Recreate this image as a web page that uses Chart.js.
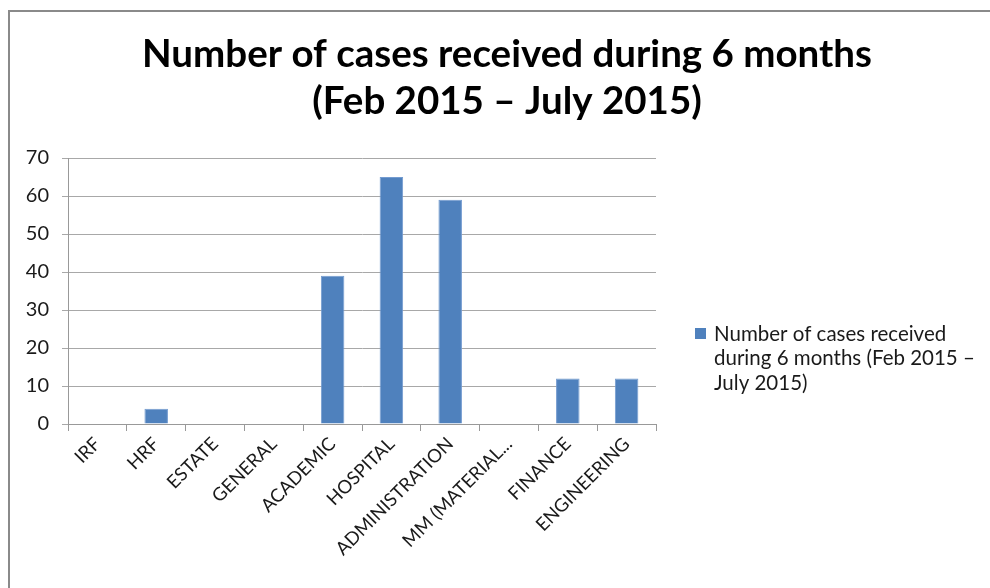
<!DOCTYPE html>
<html>
<head>
<meta charset="utf-8">
<script src="https://cdn.jsdelivr.net/npm/chart.js@4"></script>
<style>
html,body{margin:0;padding:0;background:#fff;}
#wrap{width:990px;height:588px;position:relative;}
</style>
</head>
<body>
<div id="wrap"><canvas id="c" width="990" height="588"></canvas></div>
<script>
const categories = ["IRF","HRF","ESTATE","GENERAL","ACADEMIC","HOSPITAL","ADMINISTRATION","MM (MATERIAL...","FINANCE","ENGINEERING"];
const seriesName = "Number of cases received during 6 months (Feb 2015 \u2013 July 2015)";
const caseCounts = [0,4,0,0,39,65,59,0,12,12];
const titleLines = ["Number of cases received during 6 months","(Feb 2015 \u2013 July 2015)"];
const legendLines = ["Number of cases received","during 6 months (Feb 2015 \u2013","July 2015)"];
const yTicks = [0,10,20,30,40,50,60,70];

const FONT = "Lato, 'Open Sans', sans-serif";
const BAR = "#4F81BD";

const framePlugin = {
  id: 'frame',
  beforeDraw(chart) {
    const ctx = chart.ctx;
    ctx.save();
    ctx.fillStyle = '#fff';
    ctx.fillRect(0,0,chart.width,chart.height);
    ctx.strokeStyle = '#8a8a8a';
    ctx.lineWidth = 2;
    ctx.beginPath();
    ctx.moveTo(9, chart.height);
    ctx.lineTo(9, 11);
    ctx.lineTo(chart.width, 11);
    ctx.stroke();
    ctx.restore();
  }
};

const titlePlugin = {
  id: 'customTitle',
  afterDraw(chart) {
    const ctx = chart.ctx;
    ctx.save();
    ctx.fillStyle = '#000';
    ctx.font = "bold 38.5px " + FONT;
    ctx.textAlign = 'center';
    ctx.textBaseline = 'alphabetic';
    ctx.fillText(titleLines[0], 507, 67);
    ctx.fillText(titleLines[1], 507, 114);
    ctx.restore();
  }
};

const legendPlugin = {
  id: 'customLegend',
  afterDraw(chart) {
    const ctx = chart.ctx;
    ctx.save();
    ctx.fillStyle = BAR;
    ctx.fillRect(695, 328, 11, 11);
    ctx.fillStyle = '#1a1a1a';
    ctx.font = "20.5px " + FONT;
    ctx.textBaseline = 'middle';
    ctx.textAlign = 'left';
    legendLines.forEach((l, i) => ctx.fillText(l, 714, 334 + i * 24.5));
    ctx.restore();
  }
};

new Chart(document.getElementById('c'), {
  type: 'bar',
  data: {
    labels: categories,
    datasets: [{
      label: seriesName,
      data: caseCounts,
      backgroundColor: BAR,
      borderColor: '#739bd0',
      borderWidth: 1,
      categoryPercentage: 1.0,
      barPercentage: 0.4
    }]
  },
  options: {
    responsive: false,
    animation: false,
    devicePixelRatio: 1,
    layout: { padding: { left: 0, right: 334, top: 158, bottom: 0 } },
    plugins: {
      legend: { display: false },
      tooltip: { enabled: false },
      title: { display: false }
    },
    scales: {
      x: {
        afterFit(scale) { scale.height = 164; },
        grid: { display: true, drawOnChartArea: false, drawTicks: true, tickLength: 7, color: '#999999', offset: true },
        border: { display: true, color: '#999999', width: 1 },
        ticks: {
          color: '#1a1a1a',
          font: { family: FONT, size: 18.5 },
          maxRotation: 45, minRotation: 45, autoSkip: false, padding: 2
        }
      },
      y: {
        min: 0, max: 70,
        afterFit(scale) { scale.width = 68; },
        afterBuildTicks(scale) { scale.ticks = yTicks.map(v => ({ value: v })); },
        grid: { color: '#a8a8a8', lineWidth: 1, tickLength: 6 },
        border: { display: true, color: '#999999', width: 1 },
        ticks: {
          color: '#1a1a1a',
          font: { family: FONT, size: 20 },
          padding: 13
        }
      }
    }
  },
  plugins: [framePlugin, titlePlugin, legendPlugin]
});
</script>
</body>
</html>
